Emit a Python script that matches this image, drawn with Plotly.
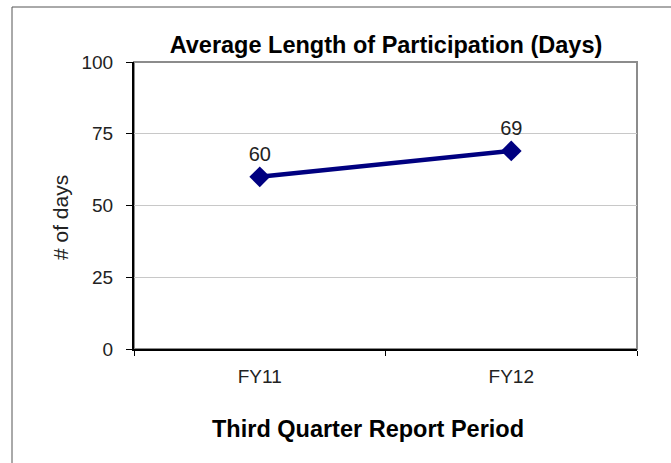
import plotly.graph_objects as go

categories = ["FY11", "FY12"]
values = [60, 69]
y_ticks = [0, 25, 50, 75, 100]

W, H = 671, 463
L, R, T, B = 134, 34, 62, 114
pw, ph = W - L - R, H - T - B

def px_to_paper_x(px):
    return (px - L) / pw

def px_to_paper_y(py):
    return (H - B - py) / ph

FONT = "Liberation Sans, Arial, Helvetica"

fig = go.Figure()
fig.add_trace(go.Scatter(
    x=categories, y=values, mode="lines+markers+text",
    text=[str(v) for v in values], textposition="top center",
    textfont=dict(family=FONT, size=20, color="#222222"),
    line=dict(color="#000080", width=4.5),
    marker=dict(symbol="diamond", size=16, color="#000080"),
    cliponaxis=False, showlegend=False,
))

fig.update_layout(
    width=W, height=H,
    margin=dict(l=L, r=R, t=T, b=B, pad=0),
    paper_bgcolor="white", plot_bgcolor="white",
    font=dict(family=FONT, color="#222222"),
    title=dict(text="<b>Average Length of Participation (Days)</b>",
               x=px_to_paper_x(386), xref="paper", xanchor="center",
               y=1 - 45 / H, yanchor="middle",
               font=dict(size=23.5, color="black")),
    xaxis=dict(type="category", range=[-0.5, 1.5], tickson="boundaries",
               ticks="outside", ticklen=5, tickcolor="black",
               showline=True, linecolor="black", linewidth=2,
               showgrid=False, ticklabelstandoff=9,
               tickfont=dict(size=19, color="#222222")),
    yaxis=dict(range=[0, 100], tickvals=y_ticks, ticks="outside", ticklen=6,
               tickcolor="black", showline=True, linecolor="black", linewidth=2,
               showgrid=True, gridcolor="#c8c8c8", gridwidth=1,
               ticklabelstandoff=9,
               tickfont=dict(size=19, color="#222222"), zeroline=False),
)

# plot area frame (gray top/right)
fig.add_shape(type="rect", xref="paper", yref="paper", x0=0, x1=1, y0=0, y1=1,
              line=dict(color="#8c8c8c", width=2), layer="below")
# outer border
fig.add_shape(type="rect", xref="paper", yref="paper",
              x0=px_to_paper_x(12), x1=px_to_paper_x(700),
              y0=px_to_paper_y(500), y1=px_to_paper_y(7),
              line=dict(color="#555555", width=1), layer="below")

fig.add_annotation(text="# of days", xref="paper", yref="paper",
                   x=px_to_paper_x(60), y=px_to_paper_y(218), showarrow=False,
                   textangle=-90, xanchor="center", yanchor="middle",
                   font=dict(size=21, color="#222222"))

fig.add_annotation(text="<b>Third Quarter Report Period</b>", xref="paper", yref="paper",
                   x=px_to_paper_x(368), y=px_to_paper_y(429), showarrow=False,
                   xanchor="center", yanchor="middle",
                   font=dict(size=23.5, color="black"))

fig.write_html("out.html", config={"displayModeBar": False},
               post_script="document.body.style.margin='0';")
